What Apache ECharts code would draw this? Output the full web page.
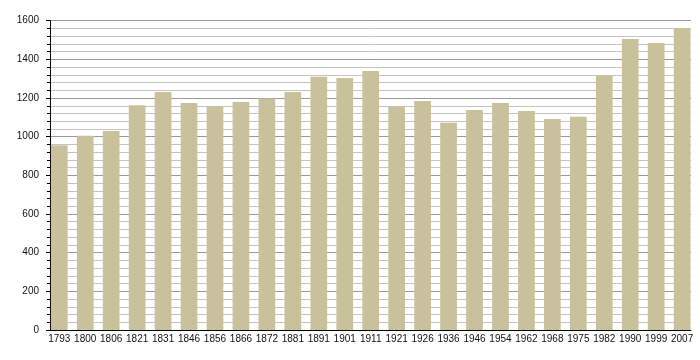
<!DOCTYPE html>
<html>
<head>
<meta charset="utf-8">
<script src="https://cdn.jsdelivr.net/npm/echarts@6/dist/echarts.min.js"></script>
<style>html,body{margin:0;padding:0;background:#fff;}#c{width:700px;height:360px;}</style>
</head>
<body>
<div id="c"></div>
<script>
const years = ['1793','1800','1806','1821','1831','1846','1856','1866','1872','1881','1891','1901','1911','1921','1926','1936','1946','1954','1962','1968','1975','1982','1990','1999','2007'];
const population = [956,1005,1030,1163,1231,1174,1158,1179,1198,1231,1310,1303,1340,1155,1184,1072,1138,1174,1133,1091,1103,1317,1505,1484,1562];
const yTicks = [0,200,400,600,800,1000,1200,1400,1600];

const chart = echarts.init(document.getElementById('c'), null, {renderer:'canvas'});
const font = 'Liberation Sans, Arial, sans-serif';
chart.setOption({
  animation: false,
  backgroundColor: '#fff',
  grid: [
    {left: 50, right: 9, top: 20.7, bottom: 30},
    {left: 46.3, right: 4.9, top: 20.7, bottom: 30}
  ],
  xAxis: [
    {gridIndex: 0, type: 'value', min: 0, max: 1, z: 10,
     axisLine: {show: true, lineStyle: {color: '#000', width: 1}},
     axisTick: {show: false}, axisLabel: {show: false}, splitLine: {show: false}},
    {gridIndex: 1, type: 'category', data: years,
     axisLine: {show: false}, axisTick: {show: false}, splitLine: {show: false},
     axisLabel: {interval: 0, margin: 4, fontSize: 10, color: '#111', fontFamily: font}}
  ],
  yAxis: [
    {gridIndex: 0, type: 'value', min: yTicks[0], max: yTicks[yTicks.length-1], interval: 200, z: 0,
     axisLine: {show: true, lineStyle: {color: '#000', width: 1}},
     axisTick: {show: true, length: 4, lineStyle: {color: '#000'}},
     minorTick: {show: true, splitNumber: 5, length: 3, lineStyle: {color: '#000'}},
     axisLabel: {margin: 11, fontSize: 10, color: '#111', fontFamily: font, formatter: v => String(v)},
     splitLine: {show: true, lineStyle: {color: '#999', width: 1}},
     minorSplitLine: {show: true, lineStyle: {color: '#c4c4c4', width: 1}}},
    {gridIndex: 1, type: 'value', min: yTicks[0], max: yTicks[yTicks.length-1], show: false,
     splitLine: {show: false}}
  ],
  series: [{
    type: 'bar', xAxisIndex: 1, yAxisIndex: 1, z: 5,
    data: population, barWidth: 16.7,
    itemStyle: {color: '#c9c19b'}
  }]
});
</script>
</body>
</html>
